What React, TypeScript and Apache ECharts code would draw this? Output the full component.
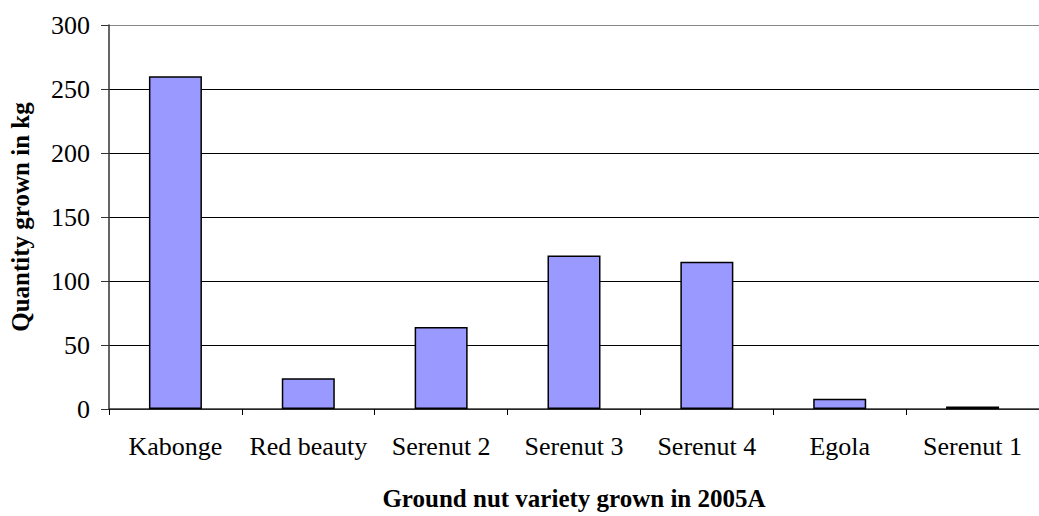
import React, { useEffect, useRef } from "react";
import * as echarts from "echarts";

const categories = ["Kabonge", "Red beauty", "Serenut 2", "Serenut 3", "Serenut 4", "Egola", "Serenut 1"];
const quantities = [260, 24, 64, 120, 115, 8, 2];
const yTicks = [0, 50, 100, 150, 200, 250, 300];

const FONT = "'Liberation Serif', 'Times New Roman', serif";

export default function App() {
  const ref = useRef<HTMLDivElement>(null);
  useEffect(() => {
    if (!ref.current) return;
    const chart = echarts.init(ref.current, null, { renderer: "svg" });
    chart.setOption({
      animation: false,
      backgroundColor: "#ffffff",
      grid: { left: 107, top: 25, bottom: 101, right: -9 },
      xAxis: {
        type: "category",
        data: categories,
        name: "Ground nut variety grown in 2005A",
        nameLocation: "middle",
        nameGap: 77,
        nameTextStyle: { fontFamily: FONT, fontSize: 25, fontWeight: "bold", color: "#000" },
        axisLine: { lineStyle: { color: "#333", width: 1.5 } },
        axisTick: { show: true, length: 6, lineStyle: { color: "#000" }, alignWithLabel: false },
        axisLabel: { fontFamily: FONT, fontSize: 26, color: "#000", margin: 24, interval: 0 },
      },
      yAxis: {
        type: "value",
        min: 0,
        max: 300,
        interval: 50,
        name: "Quantity grown in kg",
        nameLocation: "middle",
        nameGap: 76,
        nameTextStyle: { fontFamily: FONT, fontSize: 25, fontWeight: "bold", color: "#000" },
        axisLine: { show: true, lineStyle: { color: "#333", width: 1.5 } },
        axisTick: { show: true, length: 8, lineStyle: { color: "#333" } },
        axisLabel: {
          fontFamily: FONT,
          fontSize: 26,
          color: "#000",
          margin: 19,
          formatter: (v: number) => (yTicks.includes(v) ? String(v) : ""),
        },
        splitLine: {
          show: true,
          lineStyle: { color: ["#000", "#000", "#000", "#000", "#000", "#000", "#888"], width: 1 },
        },
      },
      series: [
        {
          type: "bar",
          data: quantities,
          barWidth: 53,
          itemStyle: { color: "#9999FF", borderColor: "#000", borderWidth: 1.5 },
        },
      ],
    });
    return () => chart.dispose();
  }, []);
  return (
    <div
      ref={ref}
      style={{ position: "absolute", left: 0, top: 0, width: 1039, height: 516, overflow: "hidden" }}
    />
  );
}
